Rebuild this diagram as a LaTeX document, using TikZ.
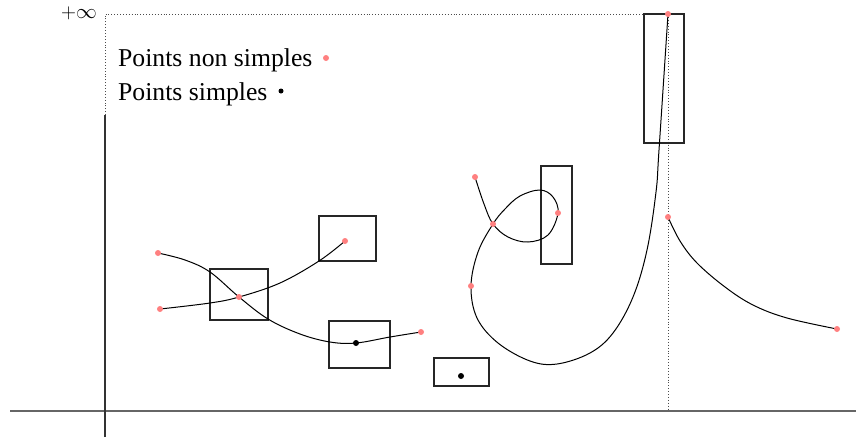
\documentclass[tikz,border=0pt]{standalone}
\usepackage{fontspec}
\setmainfont{Liberation Serif}
\begin{document}
\begin{tikzpicture}[x=1pt,y=-1pt,
  curve/.style={line width=1pt, black},
  box/.style={draw, line width=1.2pt, black!85},
  axis/.style={line width=1.4pt, black!60},
  guide/.style={dotted, line width=0.9pt, black!70},
  nsdot/.style={circle, fill=red!50, inner sep=0pt, minimum size=6pt},
  sdot/.style={circle, fill=black, inner sep=0pt, minimum size=6pt},
  legend/.style={font=\fontsize{25.7}{30}\selectfont, anchor=base west, inner sep=0pt}]
\useasboundingbox (0,0) rectangle (856,437);
% axes
\coordinate (xl) at (10,411); \coordinate (xr) at (856,411);
\coordinate (yb) at (105,437); \coordinate (yt) at (105,115);
\draw[axis] (xl) -- (xr);
\draw[line width=1.4pt, black!80] (yb) -- (yt);
% guides
\coordinate (inf) at (105,14); \coordinate (top) at (668,14); \coordinate (asym) at (668,411);
\draw[guide] (yt) -- (inf) -- (top) -- (asym);
\node[anchor=east, inner sep=0pt, font=\fontsize{21}{25}\selectfont] (pinf) at (97,13.5) {$+\infty$};
% legend
\node[legend] (l1) at (118,66) {Points non simples};
\node[legend] (l2) at (118,100) {Points simples};
\node[nsdot] (ld1) at (326,58) {};
\node[sdot, minimum size=5pt] (ld2) at (281,91) {};
% boxes
\draw[box] (210,269) rectangle (268,320);
\draw[box] (319,216) rectangle (376,261);
\draw[box] (329,321) rectangle (390,368);
\draw[box] (434,358) rectangle (489,386);
\draw[box] (541,166) rectangle (572,264);
\draw[box] (644,14) rectangle (684,143);
% curves
\draw[curve] plot[smooth, tension=0.6] coordinates {(158,253) (185,260) (210,272) (239,297) (268,319) (300,334) (330,342) (356,343) (390,337) (421,332)};
\draw[curve] plot[smooth, tension=0.6] coordinates {(160,309) (210,303) (239,297) (280,283) (319,261) (345,241)};
\draw[curve] plot[smooth, tension=0.6] coordinates {(475,177) (484,204) (493,224) (508,237) (528,242) (548,235) (558,213) (553,197) (540,190) (520,196) (505,209) (493,224) (478,252) (471,286) (477,318) (498,343) (530,361) (557,364) (590,353) (613,333) (633,297) (647,250) (656,192) (659,150) (668,14)};
\draw[curve] plot[smooth, tension=0.6] coordinates {(668,217) (680,241) (697,263) (725,287) (753,305) (787,318) (837,329)};
% points
\node[nsdot] (p1) at (158,253) {};
\node[nsdot] (p2) at (160,309) {};
\node[nsdot] (p3) at (239,297) {};
\node[nsdot] (p4) at (345,241) {};
\node[sdot] (p5) at (356,343) {};
\node[nsdot] (p6) at (421,332) {};
\node[sdot] (p7) at (461,376) {};
\node[nsdot] (p8) at (475,177) {};
\node[nsdot] (p9) at (493,224) {};
\node[nsdot] (p10) at (558,213) {};
\node[nsdot] (p11) at (471,286) {};
\node[nsdot] (p12) at (668,14) {};
\node[nsdot] (p13) at (668,217) {};
\node[nsdot] (p14) at (837,329) {};
\end{tikzpicture}
\end{document}
